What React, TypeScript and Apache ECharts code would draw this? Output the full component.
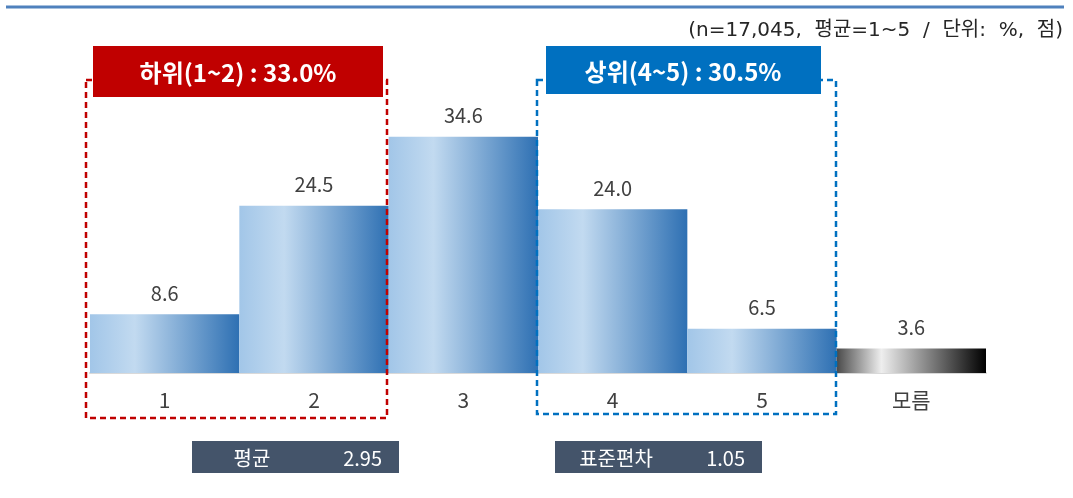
import React, { useEffect, useRef } from "react";
import * as echarts from "echarts";

const categories = ["1", "2", "3", "4", "5", "모름"];
const values = [8.6, 24.5, 34.6, 24.0, 6.5, 3.6];
const subtitle = "(n=17,045,  평균=1~5  /  단위:  %,  점)";
const lowLabel = "하위(1~2) : 33.0%";
const highLabel = "상위(4~5) : 30.5%";
const statNames = ["평균", "표준편차"];
const statValues = ["2.95", "1.05"];

const FONT = "'Noto Sans CJK KR', 'Noto Sans', sans-serif";
const WIDE = "'DejaVu Sans', 'Noto Sans CJK KR', sans-serif";

const blueGrad = () =>
  new echarts.graphic.LinearGradient(0, 0, 1, 0, [
    { offset: 0, color: "#A2C6E8" },
    { offset: 0.3, color: "#C2DAF0" },
    { offset: 1, color: "#2E70B3" },
  ]);
const grayGrad = () =>
  new echarts.graphic.LinearGradient(0, 0, 1, 0, [
    { offset: 0, color: "#4A4A4A" },
    { offset: 0.3, color: "#EEEEEE" },
    { offset: 1, color: "#000000" },
  ]);

export default function App() {
  const ref = useRef<HTMLDivElement>(null);
  useEffect(() => {
    if (!ref.current) return;
    const chart = echarts.init(ref.current, undefined, { renderer: "svg" });
    const data = values.map((v, i) => ({
      value: v,
      itemStyle: { color: categories[i] === "모름" ? grayGrad() : blueGrad() },
    }));
    const whiteText = (x: number, y: number, text: string, align: string, size: number, extra: any = {}) => ({
      type: "text",
      z: 102,
      x,
      y,
      style: {
        text,
        fill: "#FFFFFF",
        fontSize: size,
        fontFamily: FONT,
        align,
        verticalAlign: "middle",
        ...extra,
      },
    });
    chart.setOption({
      animation: false,
      grid: { left: 90, right: 87, top: 100, bottom: 125 },
      xAxis: {
        type: "category",
        data: categories,
        axisLine: { show: true, lineStyle: { color: "#D9D9D9", width: 2 } },
        axisTick: { show: false },
        axisLabel: {
          color: "#404040",
          fontSize: 21,
          fontFamily: FONT,
          margin: 15,
        },
      },
      yAxis: {
        type: "value",
        min: 0,
        max: 40,
        show: false,
        splitLine: { show: false },
      },
      series: [
        {
          type: "bar",
          data,
          barCategoryGap: "0%",
          label: {
            show: true,
            position: "top",
            distance: 12,
            color: "#404040",
            fontSize: 20,
            fontFamily: FONT,
            formatter: (p: any) => Number(p.value).toFixed(1),
          },
        },
      ],
      graphic: [
        {
          type: "line",
          shape: { x1: 6, y1: 7, x2: 1064, y2: 7 },
          style: { stroke: "#4F81BD", lineWidth: 3 },
        },
        {
          type: "text",
          x: 1063,
          y: 29,
          style: {
            text: subtitle,
            fill: "#262626",
            fontSize: 20,
            fontFamily: WIDE,
            align: "right",
            verticalAlign: "middle",
          },
        },
        {
          type: "rect",
          z: 100,
          shape: { x: 86, y: 80, width: 301, height: 338 },
          style: { fill: null, stroke: "#C00000", lineWidth: 2.5, lineDash: [6, 4] },
        },
        {
          type: "rect",
          z: 101,
          shape: { x: 93, y: 46, width: 290, height: 51 },
          style: { fill: "#C00000" },
        },
        whiteText(238, 71, lowLabel, "center", 24, { fontWeight: "bold" }),
        {
          type: "rect",
          z: 100,
          shape: { x: 537, y: 80, width: 299, height: 334 },
          style: { fill: null, stroke: "#0070C0", lineWidth: 2.5, lineDash: [6, 4] },
        },
        {
          type: "rect",
          z: 101,
          shape: { x: 546, y: 46, width: 275, height: 48 },
          style: { fill: "#0070C0" },
        },
        whiteText(683, 70, highLabel, "center", 24, { fontWeight: "bold" }),
        {
          type: "rect",
          shape: { x: 192, y: 441, width: 207, height: 32 },
          style: { fill: "#44546A" },
        },
        whiteText(252, 457, statNames[0], "center", 20),
        whiteText(382, 457, statValues[0], "right", 20),
        {
          type: "rect",
          shape: { x: 555, y: 441, width: 207, height: 32 },
          style: { fill: "#44546A" },
        },
        whiteText(616, 457, statNames[1], "center", 20),
        whiteText(745, 457, statValues[1], "right", 20),
      ],
    });
    return () => chart.dispose();
  }, []);
  return (
    <div
      ref={ref}
      style={{ position: "fixed", left: 0, top: 0, width: 1073, height: 498 }}
    />
  );
}
